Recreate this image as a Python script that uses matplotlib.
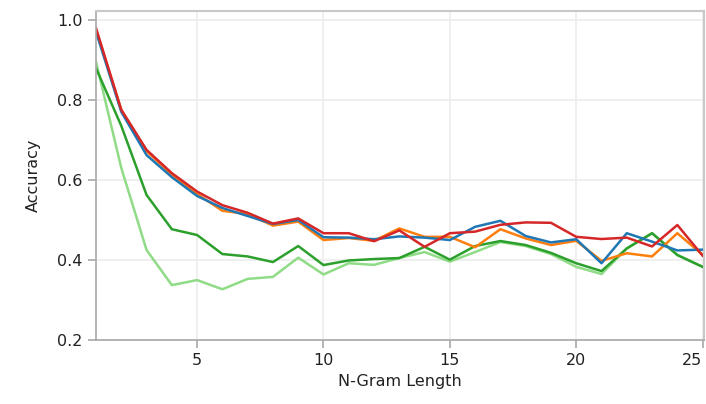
import matplotlib
matplotlib.use("Agg")
import matplotlib.pyplot as plt

n = list(range(1, 26))

light_green = [0.895, 0.63, 0.425, 0.3375, 0.35, 0.327, 0.353, 0.358, 0.406, 0.364,
               0.392, 0.388, 0.405, 0.42, 0.396, 0.42, 0.445, 0.435, 0.415, 0.383,
               0.365, 0.429, 0.467, 0.413, 0.383]
dark_green = [0.879, 0.735, 0.5625, 0.477, 0.4625, 0.415, 0.409, 0.395, 0.435, 0.3875,
              0.399, 0.4025, 0.405, 0.433, 0.401, 0.435, 0.4475, 0.4375, 0.418, 0.392,
              0.3725, 0.429, 0.467, 0.4125, 0.383]
orange = [0.975, 0.775, 0.672, 0.613, 0.565, 0.523, 0.515, 0.486, 0.496, 0.45,
          0.455, 0.448, 0.479, 0.458, 0.458, 0.432, 0.477, 0.454, 0.4375, 0.448,
          0.398, 0.417, 0.409, 0.467, 0.413]
blue = [0.97, 0.77, 0.662, 0.607, 0.56, 0.53, 0.51, 0.49, 0.5, 0.457,
        0.456, 0.452, 0.459, 0.456, 0.45, 0.483, 0.498, 0.46, 0.444, 0.452,
        0.392, 0.467, 0.446, 0.424, 0.426]
red = [0.979, 0.775, 0.675, 0.617, 0.571, 0.537, 0.518, 0.491, 0.504, 0.467,
       0.467, 0.447, 0.474, 0.433, 0.467, 0.471, 0.488, 0.494, 0.493, 0.458,
       0.4525, 0.456, 0.434, 0.4875, 0.411]

fig = plt.figure(figsize=(7.06, 4.04), dpi=100)
ax = fig.add_axes([0.136, 0.158, 0.861, 0.815])

ax.plot(n, light_green, color="#90dc86", lw=1.8)
ax.plot(n, dark_green, color="#2ca02c", lw=1.8)
ax.plot(n, orange, color="#ff7f0e", lw=1.8)
ax.plot(n, blue, color="#1f77b4", lw=1.8)
ax.plot(n, red, color="#d62728", lw=1.8)

ax.set_xlim(1, 25.05)
ax.set_ylim(0.2, 1.022)
ax.set_xticks([5, 10, 15, 20, 25])
ax.set_yticks([0.2, 0.4, 0.6, 0.8, 1.0])
ax.grid(True, color="#ececec", lw=1.2)
ax.set_axisbelow(True)

for s in ["top", "right"]:
    ax.spines[s].set_color("#c8c8c8")
    ax.spines[s].set_linewidth(1.5)
for s in ["left", "bottom"]:
    ax.spines[s].set_color("#a8a8a8")
    ax.spines[s].set_linewidth(1.2)
ax.tick_params(colors="#a8a8a8", length=6, width=1.2, labelcolor="#222222", labelsize=11.5)

# last x label sits at the right edge, keep it inside
ax.get_xticklabels()[-1].set_ha("right")

ax.set_xlabel("N-Gram Length", fontsize=11.5, color="#222222")
ax.set_ylabel("Accuracy", fontsize=11.5, color="#222222", labelpad=12)

fig.savefig("out.png", dpi=100)
